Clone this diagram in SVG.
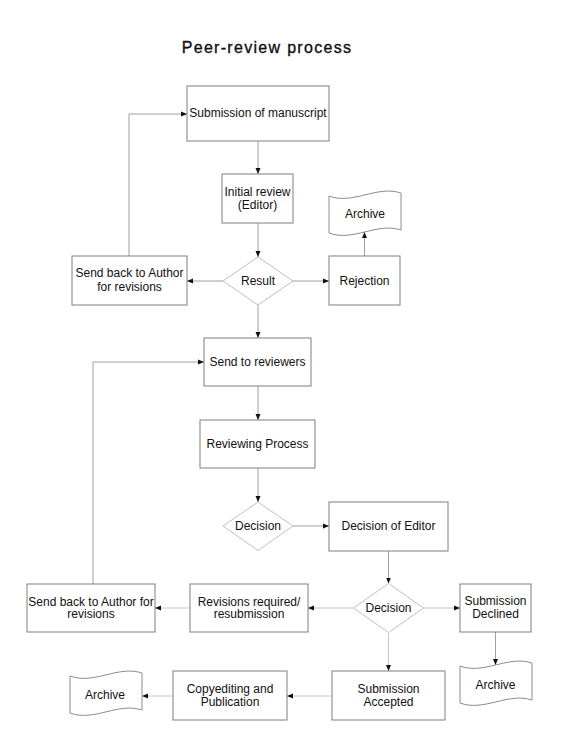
<svg xmlns="http://www.w3.org/2000/svg" xmlns:xlink="http://www.w3.org/1999/xlink" width="562" height="754" viewBox="0 0 562 754">
<style>
  .box{fill:#fff;stroke:#7f7f7f;stroke-width:1}
  .dia{fill:#fff;stroke:#c0c0c0;stroke-width:1}
  .doc{fill:#fff;stroke:#8c8c8c;stroke-width:1}
  .t{font-family:"Liberation Sans",Arial,sans-serif;font-size:12px;fill:#111;text-anchor:middle}
  .title{font-family:"Liberation Sans",Arial,sans-serif;font-size:16px;fill:#111;stroke:#111;stroke-width:0.35;text-anchor:middle;letter-spacing:1.3px}
  .c{fill:none;stroke:#a0a0a0;stroke-width:1;marker-end:url(#arr)}
  .cl{fill:none;stroke:#c8c8c8;stroke-width:1;marker-end:url(#arr)}
</style>
<defs>
  <marker id="arr" markerUnits="userSpaceOnUse" markerWidth="6" markerHeight="6" refX="6" refY="3" orient="auto">
    <path d="M0,0.5 L6,3 L0,5.5 z" fill="#111"/>
  </marker>
  <path id="tape" d="M0,6 C24,15 48,-5 72,3 L72,40 C48,32 24,52 0,43 Z"/>
</defs>
<rect width="562" height="754" fill="#fff"/>
<text class="title" x="267" y="53">Peer-review process</text>

<g id="connectors">
  <path class="c" d="M129,256 V114 H187"/>
  <path class="c" d="M258,141 V174"/>
  <path class="c" d="M258,223 V257"/>
  <path class="c" d="M223,281 H187"/>
  <path class="c" d="M293,281 H329"/>
  <path class="c" d="M364.5,256 V232"/>
  <path class="c" d="M258,305 V338"/>
  <path class="c" d="M93,584 V362 H204"/>
  <path class="c" d="M258,386 V420"/>
  <path class="c" d="M258,468 V502"/>
  <path class="c" d="M293,526 H329"/>
  <path class="c" d="M388.5,551 V583.5"/>
  <path class="cl" d="M353.5,608 H308"/>
  <path class="cl" d="M190,608 H155"/>
  <path class="cl" d="M423.5,608 H460"/>
  <path class="c" d="M495.5,632 V665"/>
  <path class="cl" d="M388.5,632.5 V671"/>
  <path class="cl" d="M332,696 H287"/>
  <path class="cl" d="M173,696 H142"/>
</g>

<g id="n_submit"><rect class="box" x="187" y="86" width="142" height="55"/><text class="t" x="258" y="117">Submission of manuscript</text></g>
<g id="n_initial"><rect class="box" x="222" y="174" width="71" height="49"/><text class="t" x="257.5" y="196">Initial review</text><text class="t" x="257.5" y="209">(Editor)</text></g>
<g id="n_result"><path class="dia" d="M258,257 L293,281 L258,305 L223,281 Z"/><text class="t" x="258" y="285">Result</text></g>
<g id="n_sendback1"><rect class="box" x="72" y="256" width="115" height="49"/><text class="t" x="129.5" y="277">Send back to Author</text><text class="t" x="129.5" y="291">for revisions</text></g>
<g id="n_reject"><rect class="box" x="329" y="256" width="71" height="49"/><text class="t" x="364.5" y="285">Rejection</text></g>
<g id="n_archive1"><use href="#tape" class="doc" transform="translate(329,190)"/><text class="t" x="365" y="218">Archive</text></g>
<g id="n_sendrev"><rect class="box" x="204" y="338" width="107" height="48"/><text class="t" x="257.5" y="366">Send to reviewers</text></g>
<g id="n_reviewing"><rect class="box" x="200" y="420" width="115" height="48"/><text class="t" x="257.5" y="448">Reviewing Process</text></g>
<g id="n_decision1"><path class="dia" d="M258,502 L293,526 L258,550.5 L223,526 Z"/><text class="t" x="258" y="530">Decision</text></g>
<g id="n_editor"><rect class="box" x="329" y="502" width="119" height="49"/><text class="t" x="388.5" y="530">Decision of Editor</text></g>
<g id="n_decision2"><path class="dia" d="M388.5,583.5 L423.5,608 L388.5,632.5 L353.5,608 Z"/><text class="t" x="388.5" y="612">Decision</text></g>
<g id="n_declined"><rect class="box" x="460" y="584" width="71" height="48"/><text class="t" x="495.5" y="605">Submission</text><text class="t" x="495.5" y="618">Declined</text></g>
<g id="n_archive2"><use href="#tape" class="doc" transform="translate(460,660)"/><text class="t" x="495.5" y="689">Archive</text></g>
<g id="n_revisions"><rect class="box" x="190" y="584" width="118" height="48"/><text class="t" x="249" y="605.5">Revisions required/</text><text class="t" x="249" y="618">resubmission</text></g>
<g id="n_sendback2"><rect class="box" x="27" y="584" width="128" height="48"/><text class="t" x="91" y="605.5">Send back to Author for</text><text class="t" x="91" y="618">revisions</text></g>
<g id="n_accepted"><rect class="box" x="332" y="671" width="113" height="49"/><text class="t" x="388.5" y="692.5">Submission</text><text class="t" x="388.5" y="705.5">Accepted</text></g>
<g id="n_copyedit"><rect class="box" x="173" y="671" width="114" height="49"/><text class="t" x="230" y="692.5">Copyediting and</text><text class="t" x="230" y="705.5">Publication</text></g>
<g id="n_archive3"><use href="#tape" class="doc" transform="translate(70,670)"/><text class="t" x="105" y="699">Archive</text></g>
</svg>
